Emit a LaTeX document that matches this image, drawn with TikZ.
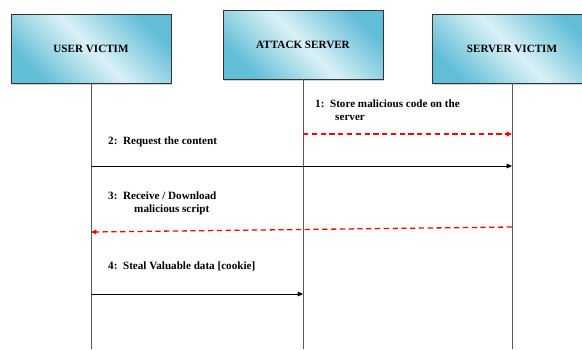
\documentclass[tikz,border=0pt]{standalone}
\usepackage{fontspec}
\setmainfont{Liberation Serif}
\usepackage{xcolor}
\usepackage{tikz}
\usetikzlibrary{arrows.meta,shadows}

\definecolor{boxdark}{RGB}{98,190,215}
\definecolor{boxlight}{RGB}{218,241,246}

\begin{document}
\begin{tikzpicture}[x=0.3mm, y=-0.3mm,
  every node/.style={
    rectangle,
    %draw,
    font=\bfseries\fontsize{9.5}{11}\selectfont,
    inner sep=0pt,
  },
  actor/.style={
    draw=black!80, line width=0.8pt,
    minimum width=48mm, minimum height=20.7mm,
    top color=boxdark, bottom color=boxdark, middle color=boxlight,
    shading angle=-45,
    drop shadow={shadow xshift=0.4mm, shadow yshift=-0.6mm, opacity=0.35},
    font=\bfseries\fontsize{9.5}{10}\selectfont,
  },
  life/.style={draw=black!65, line width=0.6pt},
  call/.style={draw=black, line width=0.6pt, -{Triangle[length=4.5pt,width=4pt]}},
  attack/.style={draw=red, line width=1.1pt, dash pattern=on 4.5pt off 3pt,
    -{Triangle[length=4.5pt,width=4pt]}},
  ]

  \useasboundingbox (0,0) rectangle (582,349);
  \clip (0,0) rectangle (582,349);

  \node[actor] (user) at (91,48.5) {\raisebox{-0.9mm}{USER VICTIM}};
  \node[actor] (atk) at (303,44.5) {\raisebox{-0.9mm}{ATTACK SERVER}};
  \node[actor] (srv) at (512,48.5) {\raisebox{-0.9mm}{SERVER VICTIM}};

  \draw[life] (user.south) -- (user |- 0,349);
  \draw[life] (atk.south) -- (atk |- 0,349);
  \draw[life] (srv.south) -- (srv |- 0,349);

  \node[anchor=west, align=left] (t1) at (315,110)
    {1:\ \ Store malicious code on the\\\hspace*{6mm}server};
  \draw[attack] (atk |- 0,134) -- (srv |- 0,134);

  \node[anchor=west] (t2) at (108,142) {2:\ \ Request the content};
  \draw[call] (user |- 0,166) -- (srv |- 0,166);

  \node[anchor=west, align=left] (t3) at (108,203)
    {3:\ \ Receive / Download\\\hspace*{7.8mm}malicious script};
  \draw[attack] (srv |- 0,227) -- (user |- 0,232);

  \node[anchor=west] (t4) at (108,266) {4:\ \ Steal Valuable data [cookie]};
  \draw[call] (user |- 0,294) -- (atk |- 0,294);

\end{tikzpicture}
\end{document}
